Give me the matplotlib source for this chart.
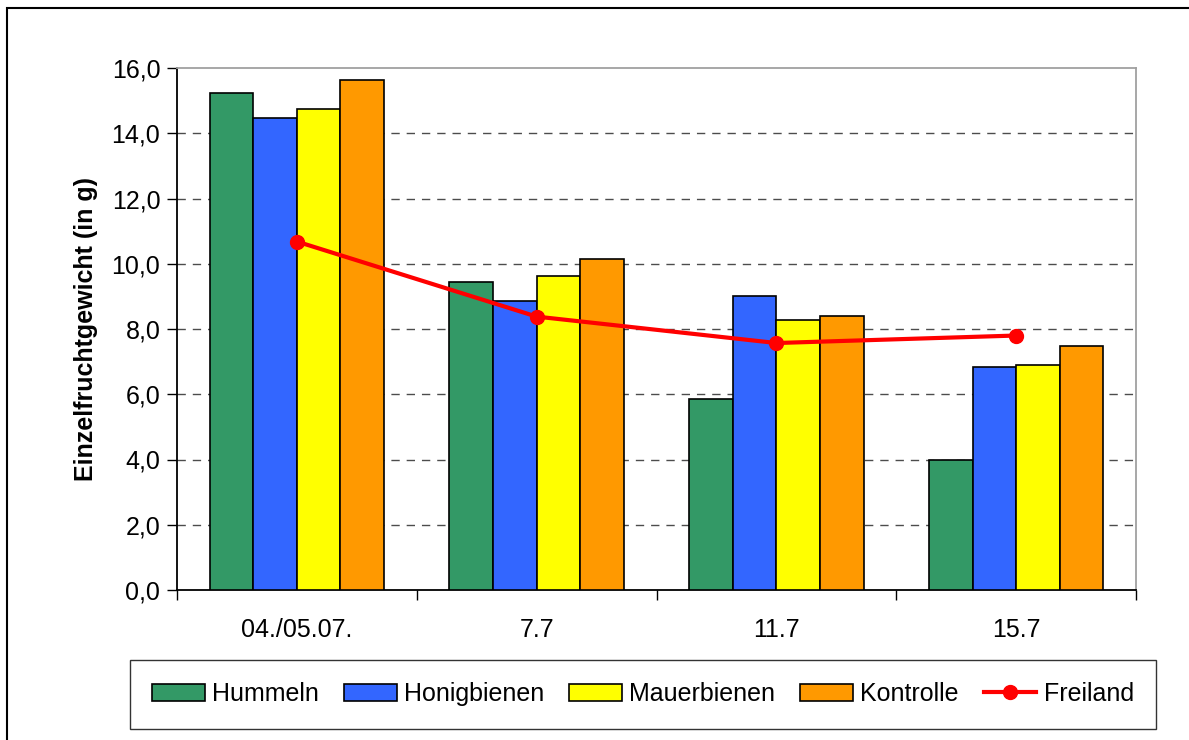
import matplotlib.pyplot as plt
import numpy as np
from matplotlib.patches import Rectangle
from matplotlib.lines import Line2D

plt.rcParams['font.family'] = ['Liberation Sans', 'DejaVu Sans']

# data
dates = ['04./05.07.', '7.7', '11.7', '15.7']
hummeln = [15.22, 9.43, 5.85, 3.97]
honigbienen = [14.48, 8.87, 9.02, 6.85]
mauerbienen = [14.75, 9.61, 8.28, 6.90]
kontrolle = [15.63, 10.16, 8.41, 7.49]
freiland = [10.68, 8.38, 7.57, 7.80]

bar_names = ['Hummeln', 'Honigbienen', 'Mauerbienen', 'Kontrolle']
bar_colors = ['#339966', '#3366FF', '#FFFF00', '#FF9900']

fig = plt.figure(figsize=(11.89, 7.40), dpi=100)
ax = fig.add_axes([177/1189, 150/740, (1136-177)/1189, (590-68)/740])

x = np.arange(len(dates))
w = 1 / 5.5
series = [hummeln, honigbienen, mauerbienen, kontrolle]
for i, vals in enumerate(series):
    ax.bar(x + (i - 1.5) * w, vals, width=w, color=bar_colors[i],
           edgecolor='black', linewidth=1.2, label=bar_names[i], zorder=3)

ax.plot(x, freiland, color='#FF0000', linewidth=3, marker='o',
        markersize=10, label='Freiland', zorder=4)

ax.set_xlim(-0.5, 3.5)
ax.set_ylim(0, 16)
ax.set_yticks(np.arange(0, 17, 2))
ax.set_yticklabels([f'{v:.1f}'.replace('.', ',') for v in np.arange(0, 17, 2)])
ax.set_xticks(x)
ax.set_xticklabels(dates)
ax.set_xticks(np.arange(-0.5, 4, 1), minor=True)
ax.tick_params(axis='x', which='major', length=0, pad=20, labelsize=18)
ax.tick_params(axis='x', which='minor', length=7, width=1, direction='out')
ax.tick_params(axis='y', length=7, width=1, direction='out', labelsize=18, pad=5)

for v in range(2, 16, 2):
    ax.axhline(v, color='black', linestyle=(0, (6, 5)), linewidth=1, alpha=0.7, zorder=1)

ax.spines['left'].set_color('black')
ax.spines['bottom'].set_color('black')
ax.spines['top'].set_color('#A0A0A0')
ax.spines['right'].set_color('#A0A0A0')
for s in ax.spines.values():
    s.set_linewidth(1.3)

ax.set_ylabel('Einzelfruchtgewicht (in g)', fontsize=18, fontweight='bold', labelpad=10)

handles = [Rectangle((0, 0), 1, 1, facecolor=c, edgecolor='black', linewidth=1.2)
           for c in bar_colors]
handles.append(Line2D([], [], color='#FF0000', linewidth=3, marker='o', markersize=10))
leg = fig.legend(handles, bar_names + ['Freiland'], loc='center',
                 bbox_to_anchor=(643/1189, 46/740), ncol=5, fontsize=18,
                 frameon=True, fancybox=False, edgecolor='black',
                 handlelength=2.1, handleheight=0.7, handletextpad=0.3,
                 columnspacing=1.0, borderpad=0.9, borderaxespad=0)
leg.get_frame().set_linewidth(1.0)

# outer chart border
fig.add_artist(Rectangle((7/1189, -0.1), 1.2, 1.089, transform=fig.transFigure,
                         fill=False, edgecolor='black', linewidth=1.5))

fig.savefig('out.png', dpi=100)
